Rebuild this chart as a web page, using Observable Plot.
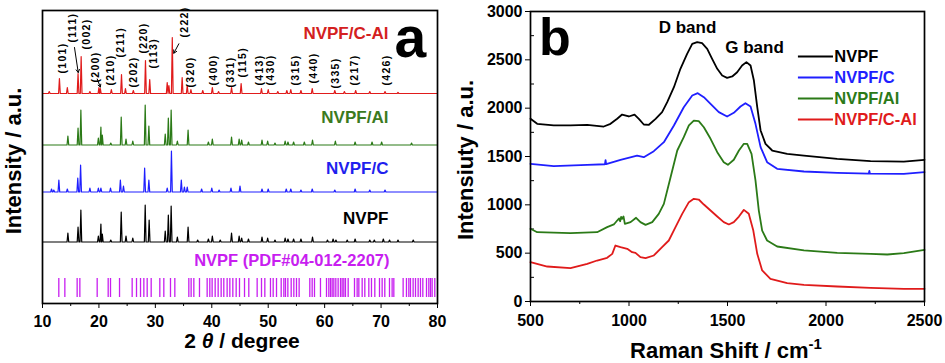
<!DOCTYPE html>
<html><head><meta charset="utf-8">
<script src="https://cdn.jsdelivr.net/npm/d3@7"></script>
<script src="https://cdn.jsdelivr.net/npm/@observablehq/plot@0.6"></script>
<style>
body{margin:0;background:#fff;}
#wrap{display:flex;width:945px;height:363px;overflow:hidden;}
#wrap svg{font-family:Arial,"Liberation Sans",sans-serif;font-weight:bold;overflow:visible;}
</style></head><body><div id="wrap"></div>
<script>
// ---------- Panel a: XRD ----------
const xrdDomain = [10, 80];
const xrdTicks = [10, 20, 30, 40, 50, 60, 70, 80];
const xrdMinorTicks = [15, 25, 35, 45, 55, 65, 75];
const xrdSeries = ["NVPF", "NVPF/C", "NVPF/Al", "NVPF/C-Al"];
const xrdColors = ["#000000", "#1f1fff", "#2b7a17", "#e01b1b"];
const xrdLabelColors = ["#000000", "#1f1fee", "#3b7a1e", "#d42020"];
const xrdOffsets = [61.5, 111.5, 158.5, 210];
const xrdLabelY = [85, 135, 186, 270];
const peaksNVPF = [[14.5,9],[16.3,15],[16.8,32],[19.9,6],[20.35,18],[20.6,8],[22.1,2],[23.95,30],[24.8,6],[26.0,4],[28.2,37],[28.9,22],[31.75,11],[32.3,27],[32.8,36],[33.9,5],[35.8,15],[37.5,2],[39.4,3],[40.1,6],[41.5,2],[43.5,9],[44.85,6],[45.3,4],[46.5,3],[48.9,5],[49.9,4],[51.2,2],[53.0,4],[53.5,3],[54.5,3],[55.8,3],[57.85,5],[60.5,2],[61.5,3],[62.0,2],[64.0,2],[65.4,3],[68.0,2],[68.8,2],[70.4,3],[71.5,2],[73.0,2],[75.7,2]];
const peaksNVPFC = [[11.6,3],[12.0,2],[12.9,12],[14.4,3],[16.25,14],[16.75,27],[18.4,4],[19.9,4],[20.35,4],[22.05,4],[23.8,12],[24.35,6],[28.1,24],[28.85,12],[32.1,4],[32.85,41],[34.6,12],[35.15,5],[35.65,5],[38.2,3],[40.0,4],[41.3,2],[43.4,4],[45.0,6],[48.9,3],[50.0,3],[53.2,3],[54.0,3],[55.8,2],[57.8,3],[61.8,2],[65.4,3],[68.0,2],[70.7,2]];
const peaksNVPFAl = [[14.5,9],[16.3,17],[16.8,35],[19.9,7],[20.35,18],[20.6,10],[22.1,2],[23.95,28],[24.8,6],[26.0,4],[28.2,40],[28.85,19],[31.75,11],[32.3,27],[32.8,35],[33.9,4],[35.8,15],[39.4,3],[40.1,6],[43.5,8],[44.85,6],[45.3,5],[46.5,3],[48.9,5],[49.9,4],[51.2,2],[53.0,4],[53.5,3],[54.5,3],[56.4,3],[57.85,5],[61.9,4],[65.4,3],[68.4,3],[70.1,3],[75.4,2]];
const peaksNVPFCAl = [[11.2,2],[13.0,15],[14.4,6],[16.3,20],[16.85,37],[18.4,2],[20.0,6],[20.25,5],[22.2,4],[24.0,19],[24.7,5],[26.1,3],[28.25,33],[29.0,14],[32.1,11],[32.4,8],[33.0,56],[34.75,16],[35.65,8],[36.3,4],[38.4,3],[40.1,6],[41.2,2],[43.5,6],[45.2,10],[48.8,5],[50.0,4],[51.7,2],[53.3,3],[54.0,4],[55.8,3],[57.8,5],[61.8,3],[63.5,2],[65.5,3],[68.0,2],[70.7,2],[73.0,1]];
const xrdPeaks = [peaksNVPF, peaksNVPFC, peaksNVPFAl, peaksNVPFCAl];
const pdfLines = [12.89,13.96,16.14,16.62,19.69,21.64,22.05,23.65,25.89,26.66,27.37,27.96,28.55,29.26,30.79,31.50,32.68,33.45,35.93,36.34,36.82,37.82,39.18,39.65,40.06,40.60,41.13,41.66,42.13,42.72,43.20,43.73,44.32,44.91,45.80,46.56,48.04,48.81,49.40,50.40,50.88,51.47,52.30,52.77,53.06,53.48,54.07,54.54,55.01,55.48,57.37,57.79,58.20,59.26,60.33,60.74,61.04,61.33,61.63,61.98,62.39,62.81,63.10,63.40,63.69,64.17,65.29,65.76,66.06,66.65,67.12,67.83,68.30,68.89,69.72,70.19,70.66,71.49,71.96,72.26,73.91,74.50,74.92,75.21,75.68,76.10,76.57,76.98,77.40,78.05,78.46,78.76,79.05,79.52];
const pdfLabel = "NVPF (PDF#04-012-2207)";
const hklLabels = ["(101)","(111)","(002)","(200)","(210)","(211)","(202)","(220)","(113)","(222)","(320)","(400)","(331)","(115)","(413)","(430)","(315)","(440)","(335)","(217)","(426)"];
const hklPos = [13.5,15.3,17.9,19.4,22.05,23.8,26.2,27.85,29.7,35.2,36.3,40.25,43.3,45.45,48.4,50.45,54.9,58.0,61.9,65.4,71.0];
const hklBottom = [230,261,254,221,218,246,216,250,235,266,216,218,216,226,218,218,218,220,215,218,218];
const hklArrows = [[15.67,256,16.33,231],[19.7,224.5,20.25,216.5],[34.16,259.7,33.27,250.3]];

// ---------- Panel b: Raman ----------
const ramanDomain = [500, 2500];
const ramanTicks = [500, 1000, 1500, 2000, 2500];
const ramanMinorX = [750, 1250, 1750, 2250];
const ramanYTicks = [0, 500, 1000, 1500, 2000, 2500, 3000];
const ramanMinorY = [250, 750, 1250, 1750, 2250, 2750];
const ramanNVPF = [[500,1890],[534,1838],[618,1821],[703,1821],[788,1828],[872,1810],[906,1838],[940,1890],[965,1934],[999,1914],[1028,1934],[1050,1890],[1075,1831],[1101,1828],[1135,1890],[1168,1959],[1194,2062],[1228,2217],[1261,2407],[1295,2562],[1321,2666],[1346,2683],[1371,2672],[1397,2614],[1422,2510],[1448,2407],[1473,2338],[1498,2314],[1524,2328],[1549,2372],[1574,2441],[1596,2476],[1617,2441],[1634,2286],[1651,2010],[1668,1769],[1693,1631],[1727,1562],[1803,1528],[1888,1510],[2057,1476],[2226,1452],[2395,1448],[2500,1466]];
const ramanNVPFC = [[500,1424],[618,1400],[788,1414],[878,1420],[881,1462],[884,1422],[957,1466],[1041,1510],[1075,1493],[1126,1555],[1177,1648],[1228,1821],[1278,2010],[1321,2131],[1349,2155],[1380,2114],[1414,2045],[1456,1959],[1498,1914],[1532,1952],[1566,2017],[1591,2052],[1617,2017],[1642,1838],[1668,1597],[1701,1441],[1752,1372],[1888,1345],[2057,1331],[2217,1322],[2220,1350],[2223,1322],[2395,1321],[2500,1338]];
const ramanNVPFAl = [[500,752],[534,717],[703,707],[838,717],[889,769],[923,797],[940,838],[950,860],[955,830],[960,875],[965,855],[972,880],[979,803],[1008,821],[1036,866],[1058,821],[1084,793],[1118,821],[1151,907],[1177,1010],[1211,1286],[1245,1562],[1278,1700],[1304,1821],[1329,1872],[1354,1866],[1380,1803],[1414,1683],[1448,1545],[1481,1441],[1502,1414],[1532,1466],[1558,1562],[1583,1631],[1600,1631],[1622,1528],[1642,1252],[1659,941],[1676,734],[1701,631],[1752,569],[1888,528],[2057,503],[2226,493],[2311,486],[2395,500],[2500,534]];
const ramanNVPFCAl = [[500,407],[585,362],[703,345],[788,390],[838,424],[889,452],[915,493],[931,579],[957,562],[991,545],[1016,510],[1033,503],[1058,459],[1084,448],[1126,476],[1168,562],[1202,631],[1236,769],[1270,907],[1304,1028],[1329,1062],[1354,1055],[1380,1003],[1414,941],[1448,879],[1481,821],[1507,797],[1532,821],[1558,879],[1583,948],[1608,907],[1631,734],[1651,493],[1676,321],[1718,234],[1803,190],[1888,172],[2057,155],[2226,141],[2395,131],[2500,131]];
const ramanSeries = ["NVPF", "NVPF/C", "NVPF/Al", "NVPF/C-Al"];
const ramanColors = ["#000000", "#1f1fff", "#2b7a17", "#e01b1b"];
const ramanData = [ramanNVPF, ramanNVPFC, ramanNVPFAl, ramanNVPFCAl];
const ramanLegendY = [2534, 2317, 2100, 1883];

// ---- build panel a ----
function profile(peaks, base, name) {
  const pts = [{x: xrdDomain[0], y: base, s: name}];
  for (const [p, h] of peaks) {
    pts.push({x: p - 0.15, y: base, s: name}, {x: p, y: base + h, s: name}, {x: p + 0.15, y: base, s: name});
  }
  pts.push({x: xrdDomain[1], y: base, s: name});
  return pts.sort((a, b) => a.x - b.x);
}
const xrdLines = xrdSeries.flatMap((s, i) => profile(xrdPeaks[i], xrdOffsets[i], s));
const hkl = hklLabels.map((t, i) => ({t, x: hklPos[i], y: hklBottom[i]}));
const seriesLabels = xrdSeries.map((s, i) => ({s, c: xrdLabelColors[i], y: xrdLabelY[i]}));

const plotA = Plot.plot({
  width: 455, height: 363,
  marginLeft: 42, marginRight: 18, marginTop: 10, marginBottom: 60,
  style: {fontSize: "16px", fontWeight: "bold", background: "white"},
  x: {domain: xrdDomain, label: null},
  y: {domain: [0, 293], label: null, axis: null},
  color: {domain: xrdSeries, range: xrdColors},
  marks: [
    Plot.axisX({ticks: xrdTicks, tickSize: 5, tickPadding: 7, label: null, fontSize: 16}),
    Plot.axisX({ticks: xrdMinorTicks, tickSize: 3, tickFormat: () => "", label: null}),
    Plot.ruleX(pdfLines, {x: d => d, y1: 6, y2: 25, stroke: "#c81ef0", strokeWidth: 1.3}),
    Plot.line(xrdLines, {x: "x", y: "y", z: "s", stroke: "s", strokeWidth: 1.2}),
    Plot.text(hkl, {x: "x", y: "y", text: "t", rotate: -90, textAnchor: "start", fontSize: 10.5, fill: "black"}),
    Plot.arrow(hklArrows, {x1: d => d[0], y1: d => d[1], x2: d => d[2], y2: d => d[3], headLength: 5, strokeWidth: 1, stroke: "black"}),
    Plot.text(seriesLabels, {x: 71.3, y: "y", text: "s", fill: "c", textAnchor: "end", fontSize: 17}),
    Plot.text([pdfLabel], {x: 71.5, y: 43, text: d => d, fill: "#c81ef0", textAnchor: "end", fontSize: 16.5}),
    Plot.text(["a"], {x: 72.4, y: 265, text: d => d, textAnchor: "start", fontSize: 57, fill: "black"}),
    Plot.frame({strokeWidth: 1.7})
  ]
});
d3.select(plotA).selectAll("text").filter(function() { return /^\(\d{3}\)$/.test(this.textContent); }).style("letter-spacing", "1.3px");
{
  const svg = d3.select(plotA);
  const t = svg.append("text").attr("x", 242).attr("y", 348).attr("text-anchor", "middle").attr("font-size", 21).attr("font-weight", "bold");
  t.append("tspan").text("2 ");
  t.append("tspan").attr("font-style", "italic").text("θ");
  t.append("tspan").text(" / degree");
  svg.append("text").attr("transform", "translate(21,161) rotate(-90)").attr("text-anchor", "middle").attr("font-size", 22).attr("font-weight", "bold").text("Intensity / a.u.");
}

// ---- build panel b ----
const ramanLines = ramanSeries.flatMap((s, i) => ramanData[i].map(([x, y]) => ({x, y, s})));
const legend = ramanSeries.map((s, i) => ({s, c: ramanColors[i], y: ramanLegendY[i]}));
const plotB = Plot.plot({
  width: 490, height: 363,
  marginLeft: 75, marginRight: 21, marginTop: 11, marginBottom: 62,
  style: {fontSize: "16px", fontWeight: "bold", background: "white"},
  x: {domain: ramanDomain, label: null},
  y: {domain: [0, 3000], label: null},
  color: {domain: ramanSeries, range: ramanColors},
  marks: [
    Plot.axisX({ticks: ramanTicks, tickSize: 5, tickPadding: 8, tickFormat: d3.format("d"), label: null, fontSize: 16}),
    Plot.axisX({ticks: ramanMinorX, tickSize: 3, tickFormat: () => "", label: null}),
    Plot.axisY({ticks: ramanYTicks, tickSize: 5, tickPadding: 3, tickFormat: d3.format("d"), label: null, fontSize: 16}),
    Plot.axisY({ticks: ramanMinorY, tickSize: -4, tickFormat: () => "", label: null}),
    Plot.line(ramanLines, {x: "x", y: "y", z: "s", stroke: "s", strokeWidth: 1.8}),
    Plot.ruleY(legend, {y: "y", x1: 1860, x2: 2038, stroke: "c", strokeWidth: 2}),
    Plot.text(legend, {x: 2042, y: "y", text: "s", fill: "c", textAnchor: "start", fontSize: 16.5}),
    Plot.text(["D band"], {x: 1297, y: 2834, text: d => d, fontSize: 17, fill: "black"}),
    Plot.text(["G band"], {x: 1637, y: 2627, text: d => d, fontSize: 17, fill: "black"}),
    Plot.text(["b"], {x: 543, y: 2720, text: d => d, textAnchor: "start", fontSize: 52, fill: "black"}),
    Plot.frame({strokeWidth: 1.7})
  ]
});
{
  const svg = d3.select(plotB);
  const t = svg.append("text").attr("x", 271).attr("y", 358).attr("text-anchor", "middle").attr("font-size", 22).attr("font-weight", "bold");
  t.append("tspan").text("Raman Shift / cm");
  t.append("tspan").attr("font-size", 15).attr("dy", -9).text("-1");
  svg.append("text").attr("transform", "translate(18,160) rotate(-90)").attr("text-anchor", "middle").attr("font-size", 22).attr("font-weight", "bold").text("Intensiuty / a.u.");
}
document.getElementById("wrap").append(plotA, plotB);
</script></body></html>
